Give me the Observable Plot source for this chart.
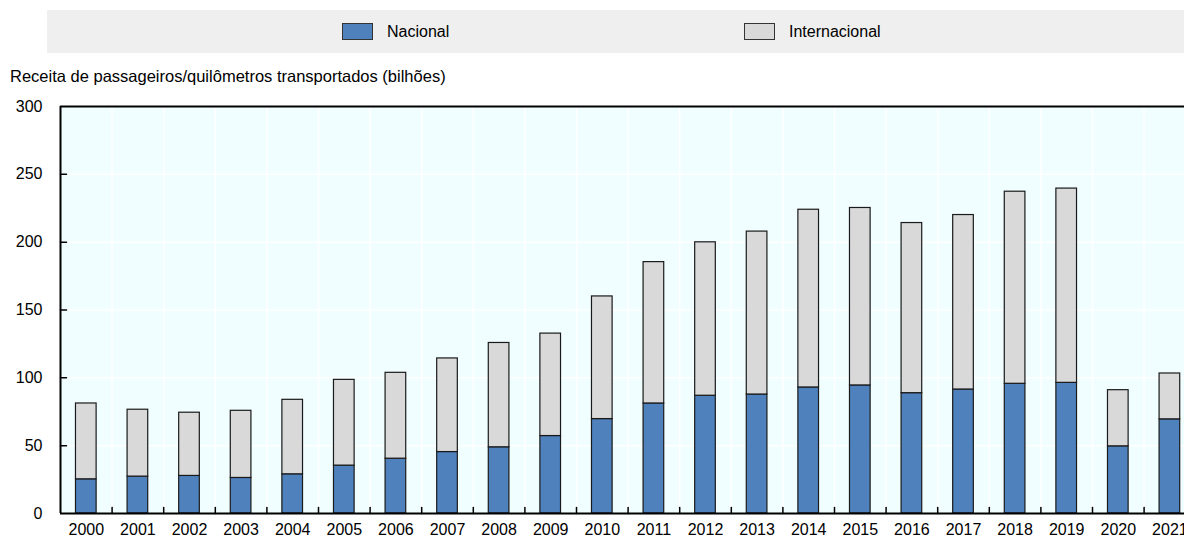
<!DOCTYPE html>
<html>
<head>
<meta charset="utf-8">
<script src="https://cdn.jsdelivr.net/npm/d3@7"></script>
<script src="https://cdn.jsdelivr.net/npm/@observablehq/plot@0.6"></script>
<style>
  html, body { margin: 0; padding: 0; background: #fff; overflow: hidden; }
  body { width: 1184px; height: 537px; position: relative; font-family: "Liberation Sans", Arial, sans-serif; color: #000; }
  #legend { position: absolute; left: 47px; top: 10px; width: 1137px; height: 43px; background: #efefef; }
  .item { position: absolute; top: 0; height: 43px; display: flex; align-items: center; font-size: 16px; }
  .sw { width: 29px; height: 15px; border: 1px solid #333; margin-right: 14px; }
  #ytitle { position: absolute; left: 10px; top: 67px; font-size: 16.5px; line-height: 18px; white-space: nowrap; }
  #chart { position: absolute; left: 0; top: 90px; }
</style>
</head>
<body>
<div id="legend"></div>
<div id="ytitle"></div>
<div id="chart"></div>
<script>
// ---- Data ----
const years = ["2000","2001","2002","2003","2004","2005","2006","2007","2008","2009","2010",
               "2011","2012","2013","2014","2015","2016","2017","2018","2019","2020","2021"];
const seriesNames = ["Nacional", "Internacional"];
const nacional = [25.2, 27.2, 27.7, 26.2, 28.9, 35.3, 40.4, 45.3, 48.8, 57.1, 69.6,
                  81.1, 86.8, 87.7, 92.9, 94.4, 88.7, 91.4, 95.6, 96.3, 49.5, 69.4];
const internacional = [55.9, 49.3, 46.6, 49.5, 54.9, 63.2, 63.3, 69.0, 76.9, 75.5, 90.4,
                       104.2, 113.1, 120.1, 131.0, 130.8, 125.4, 128.6, 141.6, 143.2, 41.4, 33.8];
const yTicks = [0, 50, 100, 150, 200, 250, 300];
const yTitle = "Receita de passageiros/quilômetros transportados (bilhões)";

// ---- Style / layout ----
const colors = ["#4f81bd", "#d9d9d9"];
const bgColor = "#f0feff";
const W = 1184, H = 447;
const mLeft = 60, mTop = 16, mBottom = 24;
const step = 51.6;                       // band step in px (chart continues past right edge)
const xRange = [mLeft, mLeft + step * years.length];

// legend
const legend = document.getElementById("legend");
const legendPos = [295, 697];
seriesNames.forEach((s, i) => {
  const it = document.createElement("div");
  it.className = "item";
  it.style.left = legendPos[i] + "px";
  it.innerHTML = `<div class="sw" style="background:${colors[i]}"></div><span>${s}</span>`;
  legend.appendChild(it);
});
document.getElementById("ytitle").textContent = yTitle;

// long table
const table = [];
years.forEach((y, i) => {
  table.push({year: y, series: seriesNames[0], value: nacional[i]});
  table.push({year: y, series: seriesNames[1], value: internacional[i]});
});

const tickShape = { draw(ctx, l) { ctx.moveTo(0, 0); ctx.lineTo(0, -l); } };

const plot = Plot.plot({
  width: W,
  height: H,
  marginLeft: mLeft,
  marginRight: 0,
  marginTop: mTop,
  marginBottom: mBottom,
  style: { background: "transparent", fontSize: "16px", fontFamily: "'Liberation Sans', Arial, sans-serif", color: "#000", overflow: "hidden" },
  x: { type: "band", domain: years, range: xRange, round: false, paddingInner: 0.6, paddingOuter: 0.3, label: null, tickSize: 0, tickPadding: 10 },
  y: { domain: [0, 300], ticks: yTicks, label: null, tickSize: 0, tickPadding: 18 },
  color: { domain: seriesNames, range: colors },
  marks: [
    Plot.frame({ fill: bgColor, stroke: null }),
    Plot.ruleY(yTicks.slice(1, -1), { stroke: "#fff", strokeWidth: 1.5 }),
    Plot.ruleX(years.slice(1), { x: d => d, dx: -step / 2, stroke: "#fff", strokeWidth: 1.5 }),
    Plot.barY(table, { x: "year", y: "value", fill: "series", stroke: "#1a1a1a", strokeWidth: 1.2 }),
    // x ticks at category boundaries, pointing up
    Plot.vector(years.slice(1), { x: d => d, y: 0, dx: -step / 2, length: 6, rotate: 0, anchor: "start", shape: tickShape, stroke: "#000", strokeWidth: 1.5 }),
    // y ticks pointing inward
    Plot.vector(yTicks.slice(1, -1), { x: () => years[0], y: d => d, dx: -step / 2, length: 6, rotate: 90, anchor: "start", shape: tickShape, stroke: "#000", strokeWidth: 1.5 }),
    Plot.ruleY([0, 300], { stroke: "#000", strokeWidth: 2 }),
    Plot.ruleX(years.slice(0, 1), { x: d => d, dx: -step / 2, y1: 0, y2: 300, stroke: "#000", strokeWidth: 2 })
  ]
});
document.getElementById("chart").appendChild(plot);
</script>
</body>
</html>
